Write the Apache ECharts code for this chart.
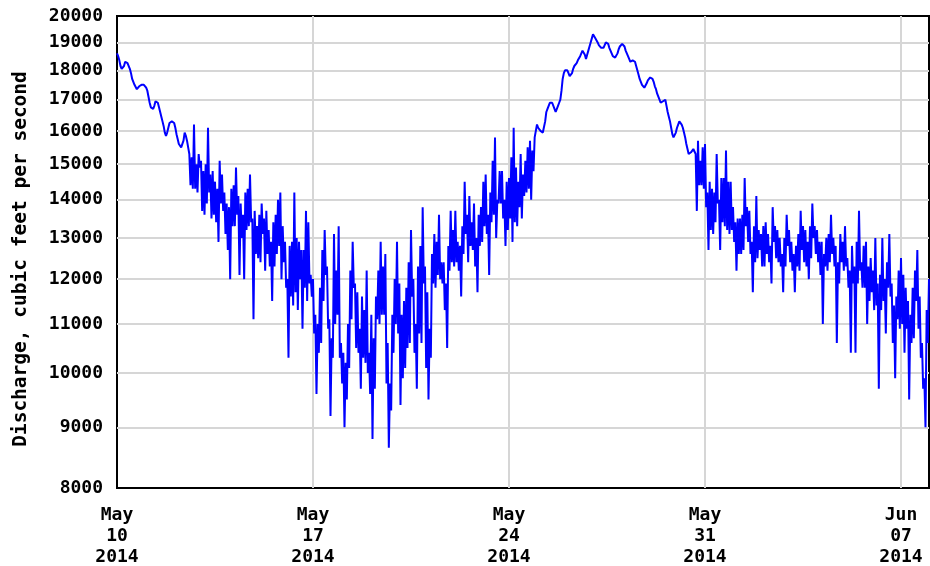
<!DOCTYPE html>
<html>
<head>
<meta charset="utf-8">
<script src="https://cdn.jsdelivr.net/npm/echarts@6/dist/echarts.min.js"></script>
<style>
  html, body { margin: 0; padding: 0; background: #fff; }
  #chart { width: 930px; height: 566px; }
</style>
</head>
<body>
<div id="chart"></div>
<script>
// y ticks (log scale), x ticks in days after May 10 2014
var yTicks = [8000, 9000, 10000, 11000, 12000, 13000, 14000, 15000, 16000, 17000, 18000, 19000, 20000];
var xTickDays = [0, 7, 14, 21, 28];
var xTickLabels = ['May\n10\n2014', 'May\n17\n2014', 'May\n24\n2014', 'May\n31\n2014', 'Jun\n07\n2014'];
var stepsPerDay = 24; // hourly readings

// discharge, cfs - one row per day
var may10to16 = [
  18600, 18500, 18350, 18150, 18050, 18000, 18150, 18300, 18300, 18250, 18200, 18050, 17900, 17700, 17600, 17500, 17450, 17350, 17400, 17450, 17500, 17500, 17550, 17500,
  17450, 17400, 17300, 17100, 16900, 16750, 16700, 16700, 16800, 16950, 17000, 16900, 16750, 16600, 16450, 16300, 16150, 15950, 15850, 15950, 16100, 16250, 16300, 16300,
  16300, 16250, 16100, 15900, 15750, 15600, 15550, 15500, 15500, 15700, 15950, 15850, 15700, 15500, 15300, 14400, 15200, 14300, 16200, 14300, 15000, 14200, 15300, 14900,
  15100, 13700, 14800, 13600, 15000, 13900, 16100, 14200, 14700, 13500, 14800, 13600, 14500, 13400, 14300, 12900, 15100, 13900, 14700, 13700, 14200, 13100, 13900, 12700,
  13800, 12000, 14300, 13300, 14400, 13300, 14900, 13600, 14100, 12100, 13900, 13000, 13600, 12000, 14200, 13200, 14300, 13300, 14700, 13400, 13500, 11100, 13700, 12600,
  13300, 12500, 13600, 12400, 13900, 13100, 13500, 12200, 13700, 12600, 13200, 12300, 12900, 11500, 13400, 12300, 13600, 12600, 14000, 12800, 14200, 12000, 13300, 12400,
  12900, 11800, 12000, 10300, 12800, 11600, 12900, 11400, 14200, 11700, 13000, 11300, 12900, 12000, 12700, 10900, 12700, 11800, 13700, 11500, 13400, 11900, 12100, 11600
];
var may17to23 = [
  12000, 10800, 11200, 9600, 11000, 10400, 11800, 10600, 12700, 11500, 13200, 12100, 12300, 10900, 11100, 9200, 10700, 10300, 13100, 11000, 12200, 11200, 13300, 10300,
  10600, 9800, 10400, 9000, 10200, 9500, 11000, 10100, 12200, 11100, 12900, 11800, 11900, 10500, 11700, 10400, 10900, 9700, 11600, 10300, 11300, 10200, 12200, 10000,
  10400, 9600, 11200, 8800, 10700, 9700, 11600, 11100, 12200, 11000, 12900, 11200, 12300, 11200, 12600, 9800, 10600, 8650, 9800, 9300, 11200, 10400, 12000, 11000,
  12900, 10800, 11900, 9400, 11200, 9900, 11500, 10100, 11800, 10500, 12400, 10600, 13200, 11600, 12000, 10400, 11000, 9700, 12300, 10800, 12800, 10600, 13800, 11900,
  12300, 10100, 11700, 9500, 10900, 10300, 12600, 11900, 13100, 11800, 12900, 12100, 13600, 12000, 12400, 11900, 12400, 11300, 11900, 10500, 12800, 12200, 13700, 12400,
  13200, 12300, 13700, 12400, 12900, 12200, 12800, 11600, 13300, 12600, 14500, 13100, 13600, 12400, 14100, 12800, 13400, 12700, 13900, 12300, 13000, 11700, 13600, 12800,
  13800, 12900, 14500, 13300, 14700, 13100, 13600, 12100, 14200, 13400, 15100, 13600, 15800, 13000, 14000, 13900, 14800, 13900, 14800, 13500, 14000, 12800, 14500, 13200
];
var may24to30 = [
  14600, 13500, 15200, 12900, 16100, 13400, 14900, 13300, 14500, 13800, 15300, 13500, 14700, 14100, 15100, 14200, 15500, 14300, 15700, 14000, 15400, 14800, 15800, 16000,
  16200, 16100, 16050, 16000, 15950, 15950, 16000, 16300, 16600, 16700, 16800, 16900, 16900, 16900, 16850, 16700, 16600, 16650, 16800, 16900, 17000, 17300, 17700, 17900,
  18000, 18000, 18000, 17900, 17800, 17800, 17900, 18050, 18150, 18200, 18250, 18350, 18400, 18500, 18550, 18700, 18750, 18550, 18400, 18550, 18700, 18850, 19000, 19150,
  19300, 19250, 19150, 19100, 19000, 18900, 18850, 18800, 18750, 18800, 18900, 19000, 19050, 18950, 18800, 18700, 18600, 18500, 18450, 18450, 18500, 18600, 18750, 18850,
  18900, 18950, 19000, 18850, 18700, 18600, 18500, 18400, 18300, 18300, 18350, 18350, 18300, 18150, 18000, 17850, 17700, 17600, 17500, 17450, 17400, 17450, 17550, 17650,
  17700, 17750, 17800, 17700, 17600, 17450, 17350, 17200, 17100, 17000, 16900, 16900, 16950, 17000, 17000, 16800, 16600, 16450, 16300, 16100, 15900, 15800, 15800, 15950,
  16100, 16200, 16300, 16300, 16200, 16100, 15950, 15800, 15600, 15450, 15300, 15300, 15350, 15400, 15450, 15400, 15300, 13700, 15700, 14400, 15100, 14400, 15500, 14300
];
var may31toJun6 = [
  15600, 13800, 14200, 12700, 14500, 13200, 14300, 13100, 14200, 13400, 15300, 13900, 14000, 12700, 14600, 13400, 14600, 13300, 15400, 13200, 14500, 13100, 14500, 13200,
  13800, 12900, 13400, 12200, 13500, 12600, 13500, 12600, 13600, 12700, 14600, 13300, 13800, 12900, 13700, 12600, 12900, 11700, 13300, 12400, 14100, 12500, 13200, 12700,
  13100, 12300, 13300, 12300, 13400, 12600, 13100, 12400, 12800, 11900, 13800, 12900, 13300, 12500, 13200, 12400, 13000, 12300, 12600, 11700, 13000, 12300, 13600, 12800,
  13200, 12400, 12900, 12200, 12600, 11700, 12800, 12300, 13100, 12200, 13700, 12700, 13300, 12400, 13200, 12300, 12900, 12000, 13300, 12500, 13900, 13000, 13300, 12600,
  13200, 12400, 12900, 12100, 12900, 11000, 12600, 12300, 13000, 12200, 13100, 12400, 13600, 12600, 13000, 12300, 12800, 10600, 12400, 11900, 13100, 12400, 12900, 12200,
  13300, 12300, 12500, 11800, 12200, 10400, 12800, 11900, 12300, 10400, 12900, 11900, 13700, 12200, 12400, 11800, 12800, 11800, 12900, 11000, 12300, 11500, 12500, 11700,
  12200, 11300, 13000, 11400, 11900, 9700, 12100, 11300, 13000, 11500, 12000, 10800, 12400, 11800, 13100, 11600, 11900, 10600, 11400, 9900, 11600, 11100, 12200, 10900
];
var jun7 = [
  12500, 11000, 12100, 10400, 11800, 10900, 11500, 9500, 11200, 10600, 11800, 10700, 12200, 11500, 12700, 10900, 11600, 10300, 10600, 9700, 9900, 9000, 11300, 10600,
  12000
];

var flow = may10to16.concat(may17to23, may24to30, may31toJun6, jun7);
var points = flow.map(function (v, i) { return [i / stepsPerDay, v]; });

var font = {
  color: '#000',
  fontFamily: 'DejaVu Sans Mono',
  fontWeight: 'bold',
  fontSize: 18
};

var gridLines = yTicks.map(function (v, i) {
  var edge = i === 0 || i === yTicks.length - 1;
  return { yAxis: v, lineStyle: edge ? { width: 0 } : {} };
}).concat(xTickDays.slice(1).map(function (d) {
  return { xAxis: d, label: { show: false } };
}));

var chart = echarts.init(document.getElementById('chart'), null, { renderer: 'canvas' });
chart.setOption({
  animation: false,
  backgroundColor: '#fff',
  grid: {
    left: 117, right: 1, top: 16, bottom: 78,
    outerBoundsMode: 'none',
    containLabel: false,
    show: true, borderColor: '#000', borderWidth: 2
  },
  xAxis: {
    type: 'value',
    min: 0,
    max: 29,
    interval: 7,
    axisLine: { show: false },
    axisTick: { show: false },
    splitLine: { show: false },
    axisLabel: Object.assign({
      margin: 17,
      lineHeight: 21,
      showMaxLabel: false,
      formatter: function (v) {
        var k = xTickDays.indexOf(v);
        return k >= 0 ? xTickLabels[k] : '';
      }
    }, font)
  },
  yAxis: {
    type: 'log',
    min: 8000,
    max: 20000,
    axisLine: { show: false },
    axisTick: { show: false },
    axisLabel: { show: false },
    splitLine: { show: false },
    name: 'Discharge, cubic feet per second',
    nameLocation: 'middle',
    nameRotate: 90,
    nameGap: 86,
    nameTextStyle: Object.assign({}, font, { fontSize: 19.5, padding: [0, 14, 0, 0] })
  },
  series: [{
    type: 'line',
    data: points,
    showSymbol: false,
    sampling: null,
    lineStyle: { color: '#0000ff', width: 2, join: 'bevel' },
    markLine: {
      silent: true,
      z: 1,
      symbol: 'none',
      animation: false,
      lineStyle: { color: '#d6d6d6', width: 2, type: 'solid' },
      label: Object.assign({
        position: 'start',
        distance: 14,
        formatter: function (p) { return p.value; }
      }, font),
      data: gridLines
    }
  }]
});
</script>
</body>
</html>
